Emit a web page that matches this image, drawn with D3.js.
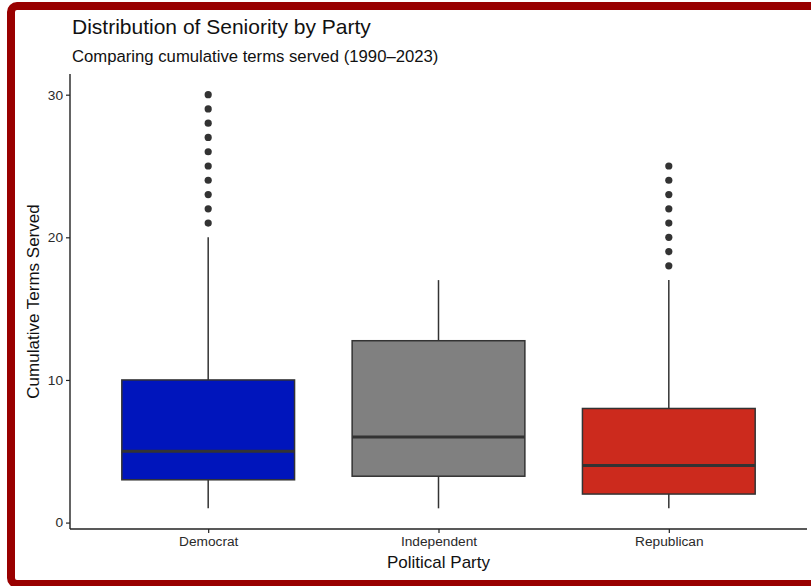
<!DOCTYPE html>
<html>
<head>
<meta charset="utf-8">
<script src="https://cdn.jsdelivr.net/npm/d3@7"></script>
<style>
  html, body { margin: 0; padding: 0; background: #fff; }
  svg { display: block; font-family: "Liberation Sans", Arial, sans-serif; }
</style>
</head>
<body>
<svg id="chart" width="811" height="586"></svg>
<script>
// ---- data ----
const parties = ["Democrat", "Independent", "Republican"];
const fills = ["#0015BC", "#808080", "#CC2A1D"];
const whiskerLow = [1, 1, 1];
const q1 = [3, 3.25, 2];
const medians = [5, 6, 4];
const q3 = [10, 12.75, 8];
const whiskerHigh = [20, 17, 17];
const outliersDem = [21, 22, 23, 24, 25, 26, 27, 28, 29, 30];
const outliersInd = [];
const outliersRep = [18, 19, 20, 21, 22, 23, 24, 25];
const yTicks = [0, 10, 20, 30];
const title = "Distribution of Seniority by Party";
const subtitle = "Comparing cumulative terms served (1990–2023)";
const xTitle = "Political Party";
const yTitle = "Cumulative Terms Served";

const outliers = [outliersDem, outliersInd, outliersRep];
const boxes = parties.map((p, i) => ({
  party: p, fill: fills[i], lo: whiskerLow[i], q1: q1[i], med: medians[i],
  q3: q3[i], hi: whiskerHigh[i], out: outliers[i]
}));

// ---- layout ----
const svg = d3.select("#chart");
const panel = { left: 70, right: 807, top: 74, bottom: 529 };

// border frame
svg.append("rect")
  .attr("x", 11).attr("y", 6)
  .attr("width", 830).attr("height", 578)
  .attr("rx", 6).attr("ry", 6)
  .attr("fill", "none")
  .attr("stroke", "#990000")
  .attr("stroke-width", 8);

const x = d3.scalePoint().domain(parties).range([panel.left, panel.right]).padding(0.6);
const step = x.step();
const boxW = step * 0.75;

const allVals = d3.merge([whiskerLow, whiskerHigh, outliersDem, outliersRep]);
const ymin = d3.min(allVals), ymax = d3.max(allVals);
const pad = (ymax - ymin) * 0.05;
const y = d3.scaleLinear().domain([ymin - pad, ymax + pad]).range([panel.bottom, panel.top]);

const g = svg.append("g");

const bx = g.selectAll("g.box").data(boxes).join("g").attr("class", "box");

// whiskers
bx.append("line")
  .attr("x1", d => x(d.party)).attr("x2", d => x(d.party))
  .attr("y1", d => y(d.hi)).attr("y2", d => y(d.q3))
  .attr("stroke", "#333").attr("stroke-width", 1.5);
bx.append("line")
  .attr("x1", d => x(d.party)).attr("x2", d => x(d.party))
  .attr("y1", d => y(d.q1)).attr("y2", d => y(d.lo))
  .attr("stroke", "#333").attr("stroke-width", 1.5);

// box
bx.append("rect")
  .attr("x", d => x(d.party) - boxW / 2)
  .attr("width", boxW)
  .attr("y", d => y(d.q3))
  .attr("height", d => y(d.q1) - y(d.q3))
  .attr("fill", d => d.fill)
  .attr("stroke", "#333").attr("stroke-width", 1.5);

// median
bx.append("line")
  .attr("x1", d => x(d.party) - boxW / 2).attr("x2", d => x(d.party) + boxW / 2)
  .attr("y1", d => y(d.med)).attr("y2", d => y(d.med))
  .attr("stroke", "#333").attr("stroke-width", 3);

// outliers
bx.selectAll("circle").data(d => d.out.map(v => ({ party: d.party, v })))
  .join("circle")
  .attr("cx", d => x(d.party)).attr("cy", d => y(d.v))
  .attr("r", 3.6).attr("fill", "#333");

// axes
const yAxis = g.append("g").attr("transform", `translate(${panel.left},0)`)
  .call(d3.axisLeft(y).tickValues(yTicks).tickSize(4).tickPadding(3).tickSizeOuter(0));
const xAxis = g.append("g").attr("transform", `translate(0,${panel.bottom})`)
  .call(d3.axisBottom(x).tickSize(4).tickPadding(3).tickSizeOuter(0));

[yAxis, xAxis].forEach(a => {
  a.select(".domain").attr("stroke", "#222").attr("stroke-width", 1.4);
  a.selectAll(".tick line").attr("stroke", "#222").attr("stroke-width", 1.2);
  a.selectAll(".tick text").attr("fill", "#2a2a2a")
    .style("font-size", "13.7px").style("font-family", '"Liberation Sans", Arial, sans-serif');
});
// make axis lines span the panel
yAxis.select(".domain").attr("d", `M0,${panel.top}V${panel.bottom}`);
xAxis.select(".domain").attr("d", `M${panel.left},0H${panel.right}`);

// titles
svg.append("text").attr("x", 72).attr("y", 34)
  .style("font-size", "21px").attr("fill", "#111").text(title);
svg.append("text").attr("x", 72).attr("y", 61.5)
  .style("font-size", "16.7px").attr("fill", "#111").text(subtitle);

svg.append("text")
  .attr("x", (panel.left + panel.right) / 2).attr("y", 568)
  .attr("text-anchor", "middle").style("font-size", "17px").attr("fill", "#111")
  .text(xTitle);
svg.append("text")
  .attr("transform", `translate(39,${(panel.top + panel.bottom) / 2}) rotate(-90)`)
  .attr("text-anchor", "middle").style("font-size", "17px").attr("fill", "#111")
  .text(yTitle);
</script>
</body>
</html>
